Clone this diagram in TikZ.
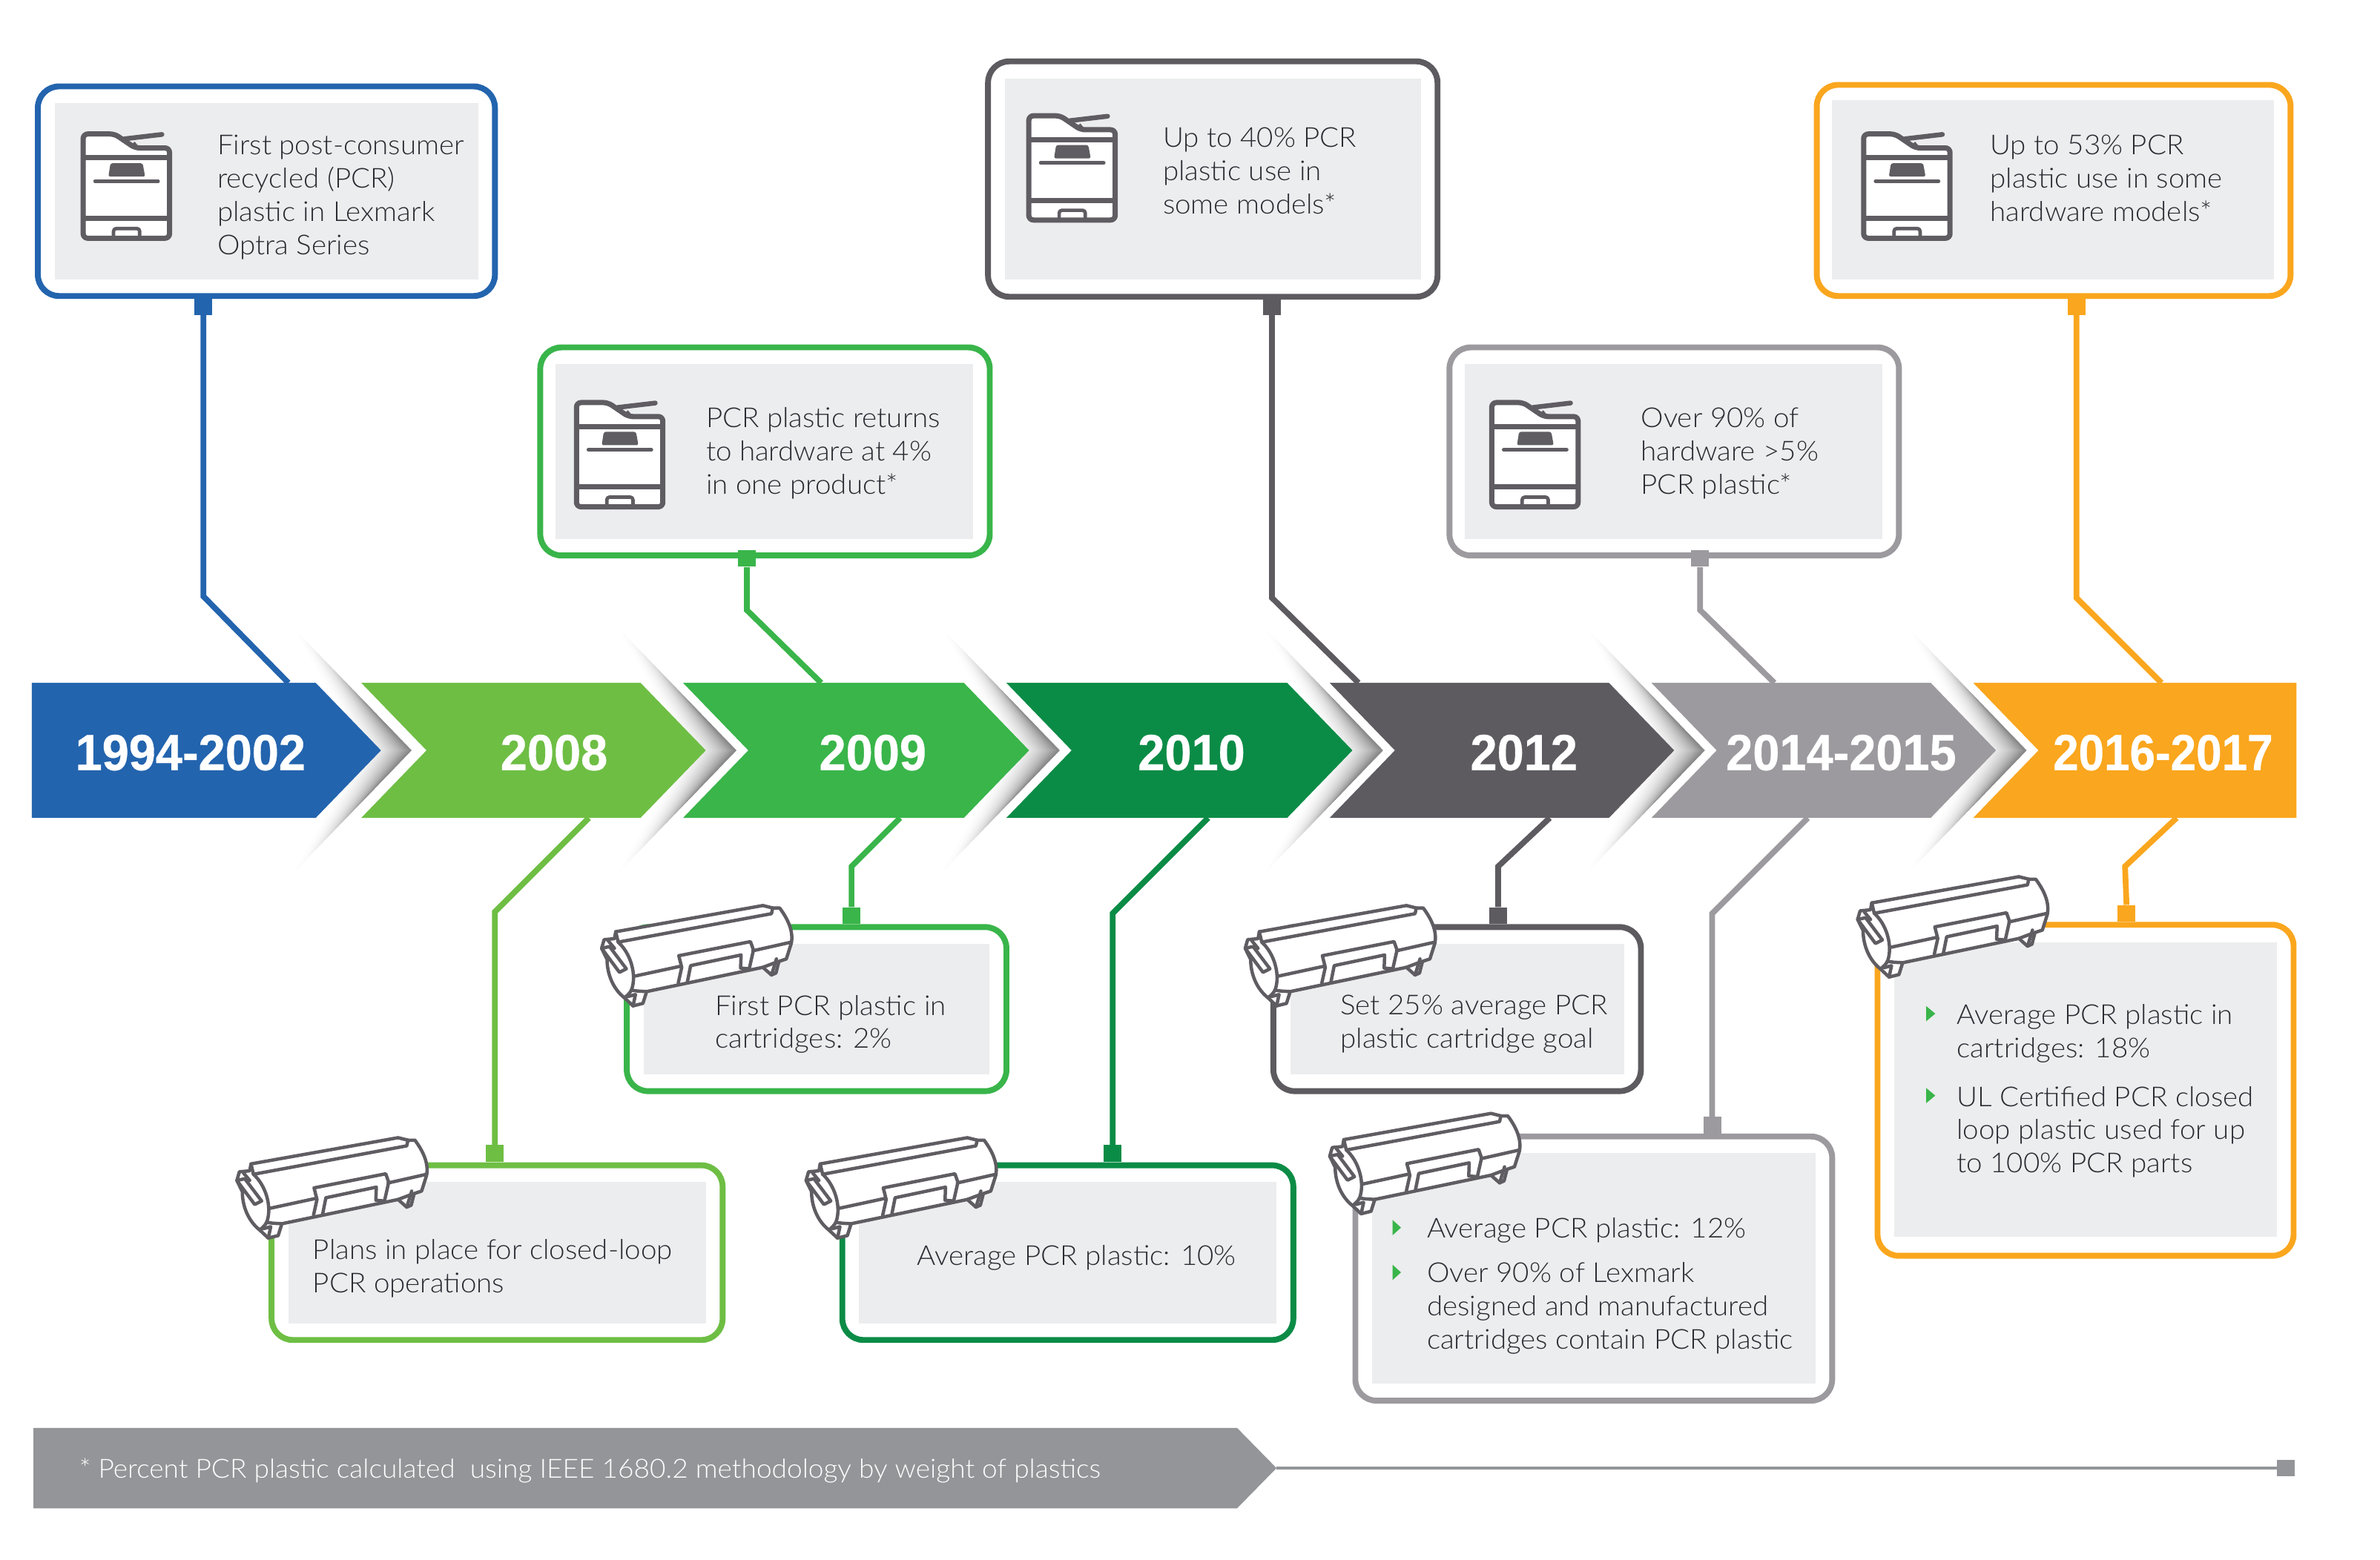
\documentclass[tikz,border=0pt]{standalone}
\usepackage{fontspec}
\setmainfont{Lato}[UprightFont=* Light,FakeStretch=1.04]
\newfontfamily\yearfont{Liberation Sans}[FakeStretch=0.95,UprightFont=* Bold,UprightFeatures={FakeBold=0.5}]
\definecolor{cblue}{HTML}{2364AE}
\definecolor{clime}{HTML}{6EBE44}
\definecolor{cgreen}{HTML}{39B54A}
\definecolor{cdeep}{HTML}{0B8C46}
\definecolor{cdark}{HTML}{5D5B60}
\definecolor{cgray}{HTML}{9C9A9E}
\definecolor{corange}{HTML}{FAA61E}
\definecolor{cpanel}{HTML}{ECEDEE}
\definecolor{ctext}{HTML}{2A2A32}
\definecolor{cfoot}{HTML}{939598}
\definecolor{cicon}{HTML}{5F5C62}
\newcommand{\tipshadow}[1]{%
  \foreach \i in {0,...,18}{%
    \pgfmathsetmacro\dd{36*(1-\i/19)}%
    \pgfmathsetmacro\cc{46*(\i/18)^2}%
    \pgfmathsetmacro\ff{1-0.6*\i/18}%
    \fill[black!\cc!white] (#1-82*\ff,494.5-85*\ff) -- (#1,494.5) -- (#1-82*\ff,494.5+85*\ff) -- (#1-\dd,494.5) -- cycle;
  }}
\newcommand{\chevron}[4]{% colour, left, shoulder, tip
  \fill[#1] (#2,450) -- (#3,450) -- (#4,494.5) -- (#3,539) -- (#2,539) -- (#2+43,494.5) -- cycle;}
\tikzset{
  x=0.04cm,y=-0.04cm,
  framebox/.style n args={3}{draw=#1,line width=4.4pt,rounded corners=0.56cm,fill=white,
    minimum width={#2*0.04cm-4.4pt},minimum height={#3*0.04cm-4.4pt},inner sep=0pt},
  panel/.style={fill=cpanel},
  tab/.style={fill=#1,minimum width=0.47cm,minimum height=0.44cm,inner sep=0pt},
  link/.style={draw=#1,line width=4.3pt,line join=miter},
  body/.style={anchor=west,align=left,inner sep=0pt,text=ctext,font=\fontsize{20.6pt}{25pt}\selectfont},
  year/.style={text=white,inner sep=0pt,font=\yearfont\fontsize{38pt}{40pt}\selectfont},
  bullet/.style={fill=cgreen},
  printericon/.pic={
    \begin{scope}[draw=cicon,line width=3.9pt,line join=round]
      \draw[fill=white,rounded corners=3.4pt] (1.8,70) -- (1.8,1.3) -- (22.5,1.3) -- (36,10.5) -- (58.7,10.5) -- (58.7,70) -- cycle;
      \draw (1.8,17) -- (58.7,17);
      \draw (1.8,57) -- (58.7,57);
      \draw[line cap=round,line width=3.6pt] (29,4.5) -- (53.7,1.6);
      \draw[line width=2.2pt] (35,7) -- (37.5,10);
      \fill[cicon,rounded corners=1.5pt] (19.8,20.6) -- (41,20.6) -- (42.6,29.4) -- (18.4,29.4) -- cycle;
      \draw[line cap=round,line width=2.6pt] (9.6,32.4) -- (51.2,32.4);
      \draw[line width=2.6pt,rounded corners=2pt] (21.8,70) -- (21.8,63.6) -- (39,63.6) -- (39,70);
    \end{scope}},
  cartridgeicon/.pic={
    \begin{scope}[scale=0.1629,draw=cicon,line width=2.5pt,line join=round,line cap=round]
      \draw[fill=white] (28,185) -- (38,150) -- (80,146) -- (85,118) -- (680,12) -- (720,22) -- (748,22)
        .. controls (780,65) and (805,115) .. (795,165) -- (775,228) -- (745,238) -- (733,285) -- (715,293) -- (680,262)
        -- (210,360) -- (195,408) -- (155,418) -- (120,385) .. controls (75,350) and (50,290) .. (50,230) -- cycle;
      \draw (85,118) -- (95,160) -- (715,45) -- (720,22);
      \draw (95,160) .. controls (145,205) and (170,290) .. (150,350) .. controls (145,365) and (130,378) .. (120,385);
      \draw (160,298) -- (345,258);
      \draw (640,195) -- (795,160);
      \draw (338,325) -- (352,262) -- (340,215) -- (630,158) -- (642,192) -- (625,268);
      \draw (375,320) -- (388,255) -- (592,212) -- (590,265) -- (625,268);
      \draw (150,355) -- (175,358) -- (210,360);
      \draw (135,380) -- (165,372) -- (155,418);
      \draw (735,228) -- (715,293);
      \draw (680,262) -- (738,240);
      \draw[fill=white] (28,185) -- (100,282) -- (128,268) -- (60,178) -- cycle;
      \draw (55,155) -- (80,185);
    \end{scope}}
}
\begin{document}
\begin{tikzpicture}
\useasboundingbox (0,0) rectangle (1568,1027.6);
\fill[white] (0,0) rectangle (1568,1027.6);
% shadows behind the chevron tips
\tipshadow{271}\tipshadow{485}\tipshadow{698}\tipshadow{911}\tipshadow{1123}\tipshadow{1335}
% upper boxes
\node[framebox={cblue}{305}{142}] (b1) at (175.5,126) {};
\fill[panel] (36,68) rectangle (315,184);
\node[framebox={cgreen}{300}{141}] (b2) at (504,297.5) {};
\fill[panel] (366,240) rectangle (641,355);
\node[framebox={cdark}{300}{159}] (b3) at (799,118) {};
\fill[panel] (662,52) rectangle (936,184);
\node[framebox={cgray}{300}{141}] (b4) at (1103,297.5) {};
\fill[panel] (965,240) rectangle (1240,355);
\node[framebox={corange}{316}{143}] (b5) at (1353,125.5) {};
\fill[panel] (1207,66) rectangle (1498,184);
% lower boxes
\node[framebox={clime}{301}{119}] (b6) at (327.5,825.5) {};
\fill[panel] (190,779) rectangle (465,872);
\node[framebox={cgreen}{254}{112}] (b7) at (538,665) {};
\fill[panel] (424,622) rectangle (652,708);
\node[framebox={cdeep}{301}{119}] (b8) at (703.5,825.5) {};
\fill[panel] (566,779) rectangle (841,872);
\node[framebox={cdark}{246}{112}] (b9) at (960,665) {};
\fill[panel] (850,622) rectangle (1070,708);
\node[framebox={cgray}{318}{178}] (b10) at (1050,836) {};
\fill[panel] (904,760) rectangle (1196,912);
\node[framebox={corange}{278}{222}] (b11) at (1374,718.5) {};
\fill[panel] (1248,621) rectangle (1500,815);
% junction points of the connectors
\coordinate (e1) at (134,393);   \coordinate (t1) at (190,450);
\coordinate (e2) at (492,402);   \coordinate (t2) at (541,450);
\coordinate (e3) at (838,394);   \coordinate (t3) at (895,450);
\coordinate (e4) at (1120,402);  \coordinate (t4) at (1169,450);
\coordinate (e5) at (1368,394);  \coordinate (t5) at (1424,450);
\coordinate (e6) at (326,601);   \coordinate (t6) at (388,539);
\coordinate (e7) at (561,571);   \coordinate (t7) at (593,539);
\coordinate (e8) at (733,602);   \coordinate (t8) at (796,539);
\coordinate (e9) at (987,571);   \coordinate (t9) at (1021,539);
\coordinate (e10) at (1128,602); \coordinate (t10) at (1191,539);
\coordinate (e11) at (1400,571); \coordinate (t11) at (1434,539);
% tabs
\node[tab=cblue] (s1) at (134,202) {};
\node[tab=cgreen] (s2) at (492,368) {};
\node[tab=cdark] (s3) at (838,202) {};
\node[tab=cgray] (s4) at (1120,368) {};
\node[tab=corange] (s5) at (1368,202) {};
\node[tab=clime] (s6) at (326,760) {};
\node[tab=cgreen] (s7) at (561,603.5) {};
\node[tab=cdeep] (s8) at (733,760) {};
\node[tab=cdark] (s9) at (987,603.5) {};
\node[tab=cgray] (s10) at (1128,741.5) {};
\node[tab=corange] (s11) at (1401,602) {};
% connectors
\draw[link=cblue] (s1.south) -- (e1) -- (t1);
\draw[link=cgreen] (s2.south) -- (e2) -- (t2);
\draw[link=cdark] (s3.south) -- (e3) -- (t3);
\draw[link=cgray] (s4.south) -- (e4) -- (t4);
\draw[link=corange] (s5.south) -- (e5) -- (t5);
\draw[link=clime] (s6.north) -- (e6) -- (t6);
\draw[link=cgreen] (s7.north) -- (e7) -- (t7);
\draw[link=cdeep] (s8.north) -- (e8) -- (t8);
\draw[link=cdark] (s9.north) -- (e9) -- (t9);
\draw[link=cgray] (s10.north) -- (e10) -- (t10);
\draw[link=corange] (s11.north) -- (e11) -- (t11);
% chevrons
\fill[cblue] (21,450) -- (208,450) -- (251,494.5) -- (208,539) -- (21,539) -- cycle;
\chevron{clime}{238}{422}{465}
\chevron{cgreen}{450}{635}{678}
\chevron{cdeep}{663}{848}{891}
\chevron{cdark}{876}{1060}{1103}
\chevron{cgray}{1088}{1272}{1315}
\fill[corange] (1300,450) -- (1513,450) -- (1513,539) -- (1300,539) -- (1343,494.5) -- cycle;
\node[year] (y1) at (125.5,496) {1994-2002};
\node[year] (y2) at (365,496) {2008};
\node[year] (y3) at (575,496) {2009};
\node[year] (y4) at (785,496) {2010};
\node[year] (y5) at (1004,496) {2012};
\node[year] (y6) at (1213,496) {2014-2015};
\node[year,transform shape,xscale=0.955] (y7) at (1425,496) {2016-2017};
% icons
\pic at (53,87) {printericon};
\pic at (378,264) {printericon};
\pic at (676,75) {printericon};
\pic at (981,264) {printericon};
\pic at (1226,87) {printericon};
\pic at (151.5,747.8) {cartridgeicon};
\pic at (391.8,594.8) {cartridgeicon};
\pic at (526.5,747.8) {cartridgeicon};
\pic at (815.8,594.8) {cartridgeicon};
\pic at (871.5,731.8) {cartridgeicon};
\pic at (1219.3,575.8) {cartridgeicon};
% texts
\node[body] (n1) at (143,130) {First post-consumer\\recycled (PCR)\\plastic in Lexmark\\Optra Series};
\node[body] (n2) at (465,298.5) {PCR plastic returns\\to hardware at 4\%\\in one product*};
\node[body] (n3) at (766,112.5) {Up to 40\% PCR\\plastic use in\\some models*};
\node[body] (n4) at (1081,299) {Over 90\% of\\hardware >5\%\\PCR plastic*};
\node[body] (n5) at (1311,117.5) {Up to 53\% PCR\\plastic use in some\\hardware models*};
\node[body] (n6) at (206,836) {Plans in place for closed-loop\\PCR operations};
\node[body] (n7) at (471,675) {First PCR plastic in\\cartridges: 2\%};
\node[body] (n8) at (604,829) {Average PCR plastic: 10\%};
\node[body] (n9) at (883,675) {Set 25\% average PCR\\plastic cartridge goal};
\node[body] (n10) at (940,811) {Average PCR plastic: 12\%};
\node[body] (n11) at (940,862) {Over 90\% of Lexmark\\designed and manufactured\\cartridges contain PCR plastic};
\node[body] (n12) at (1289,681) {Average PCR plastic in\\cartridges: 18\%};
\node[body] (n13) at (1289,746) {UL Certified PCR closed\\loop plastic used for up\\to 100\% PCR parts};
% bullets
\fill[bullet] (917.5,804) -- (923,809) -- (917.5,814) -- cycle;
\fill[bullet] (917.5,833.5) -- (923,838.5) -- (917.5,843.5) -- cycle;
\fill[bullet] (1269,663) -- (1275,668) -- (1269,673) -- cycle;
\fill[bullet] (1269,717) -- (1275,722) -- (1269,727) -- cycle;
% footer
\fill[cfoot] (22,941) -- (815,941) -- (841,967.5) -- (815,994) -- (22,994) -- cycle;
\coordinate (footip) at (841,967.5);
\node[fill=cfoot,minimum width=0.46cm,minimum height=0.44cm,inner sep=0pt] (fend) at (1506,967.5) {};
\draw[cfoot,line width=2.2pt] (footip) -- (fend);
\node[body,text=white,font=\fontsize{19.8pt}{24pt}\selectfont] (foot) at (52,969) {* Percent PCR plastic calculated~~using IEEE 1680.2 methodology by weight of plastics};
\end{tikzpicture}
\end{document}
